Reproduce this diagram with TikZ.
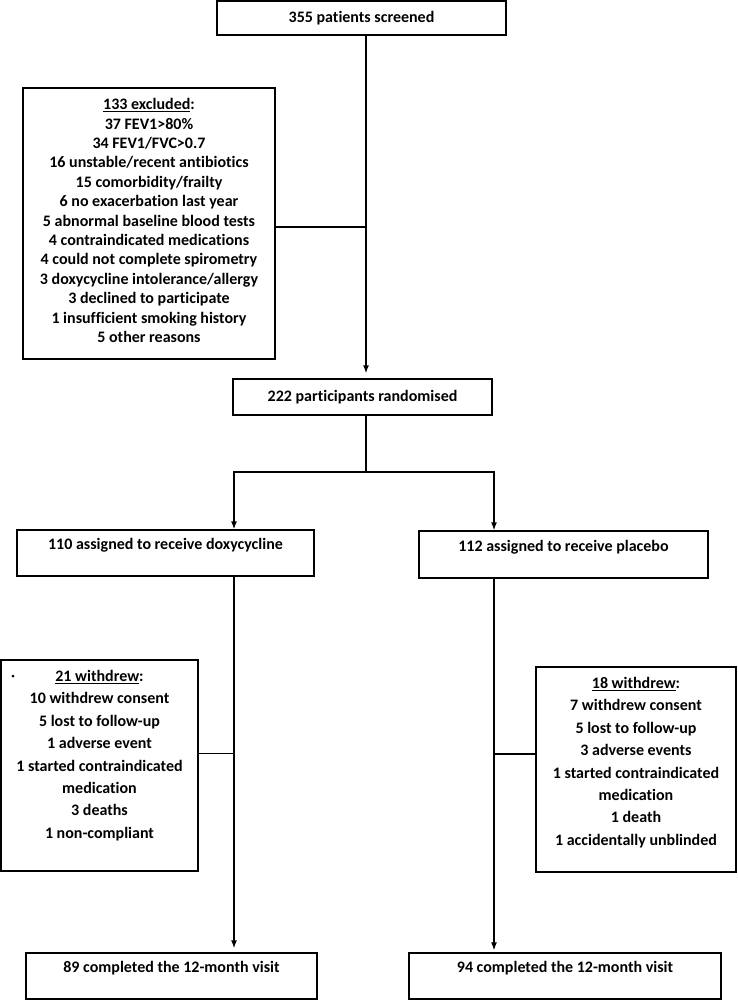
\documentclass[tikz,border=0pt]{standalone}
\usepackage{fontspec}
\setmainfont{Carlito}[Ligatures=NoCommon]
\usepackage{tikz}
\usetikzlibrary{arrows,arrows.meta}

\begin{document}
\begin{tikzpicture}[x=1pt, y=-1pt,
  box/.style={draw, rectangle, line width=1.3pt, align=center, inner sep=2pt, font=\fontsize{16}{18}\selectfont\bfseries},
  listbox/.style={box, font=\fontsize{16}{19.4}\selectfont\bfseries},
  link/.style={line width=1.3pt},
  >={Latex[length=8pt, width=6pt]}]

\useasboundingbox (0,0) rectangle (737,1001);

\coordinate (trunk) at (366,0);
\coordinate (armL) at (234,0);
\coordinate (armR) at (494,0);
\coordinate (split) at (366,472);

\node[box, minimum width=289pt, minimum height=34pt] at (361.5,18) (screened) {355 patients screened};
\node[listbox, minimum width=252pt, minimum height=271pt] at (149,223.5) (excluded) {\underline{133 excluded}:\\
37 FEV1>80\%\\ 34 FEV1/FVC>0.7\\ 16 unstable/recent antibiotics\\ 15 comorbidity/frailty\\
6 no exacerbation last year\\ 5 abnormal baseline blood tests\\ 4 contraindicated medications\\
4 could not complete spirometry\\ 3 doxycycline intolerance/allergy\\ 3 declined to participate\\
1 insufficient smoking history\\ 5 other reasons\\[-13.4pt]~};
\node[box, minimum width=259pt, minimum height=36pt] at (362.5,397) (randomised) {222 participants randomised};

\node[box, minimum width=297pt, minimum height=46pt] at (165.5,553) (doxy) {110 assigned to receive doxycycline\\~};
\node[box, minimum width=289pt, minimum height=47pt] at (563.5,554.5) (placebo) {112 assigned to receive placebo\\~};

\node[listbox, font=\fontsize{16}{22.4}\selectfont\bfseries, minimum width=197pt, minimum height=211pt] at (99.5,765.5) (wdoxy) {\underline{21 withdrew}:\\
10 withdrew consent\\ 5 lost to follow-up\\ 1 adverse event\\ 1 started contraindicated\\
medication\\ 3 deaths\\ 1 non-compliant\\~};
\node[listbox, font=\fontsize{16}{22.4}\selectfont\bfseries, minimum width=200pt, minimum height=205pt] at (636,769.5) (wplacebo) {\underline{18 withdrew}:\\
7 withdrew consent\\ 5 lost to follow-up\\ 3 adverse events\\ 1 started contraindicated\\
medication\\ 1 death\\ 1 accidentally unblinded\\[-6pt]~};
\fill (13,676) circle (1.5pt);

\node[box, minimum width=291pt, minimum height=46pt] at (171.5,976) (cdoxy) {89 completed the 12-month visit\\~};
\node[box, minimum width=312pt, minimum height=46pt] at (565,976) (cplacebo) {94 completed the 12-month visit\\~};

\draw[link, ->, shorten >=5pt] (screened.south -| trunk) -- (randomised.north -| trunk);
\draw[link] ([yshift=-3.5pt]excluded.east) -- ([yshift=-3.5pt]excluded.east -| trunk);

\draw[link] (randomised.south -| trunk) -- (split);
\draw[link, ->] (split) -| (doxy.north -| armL);
\draw[link, ->] (split) -| (placebo.north -| armR);

\draw[link, ->, shorten >=4pt] (doxy.south -| armL) -- (cdoxy.north -| armL);
\draw[link, ->, shorten >=2pt] (placebo.south -| armR) -- (cplacebo.north -| armR);
\draw[link] ([yshift=12pt]wdoxy.east) -- ([yshift=12pt]wdoxy.east -| armL);
\draw[link] ([yshift=15.5pt]wplacebo.west) -- ([yshift=15.5pt]wplacebo.west -| armR);

\end{tikzpicture}
\end{document}
